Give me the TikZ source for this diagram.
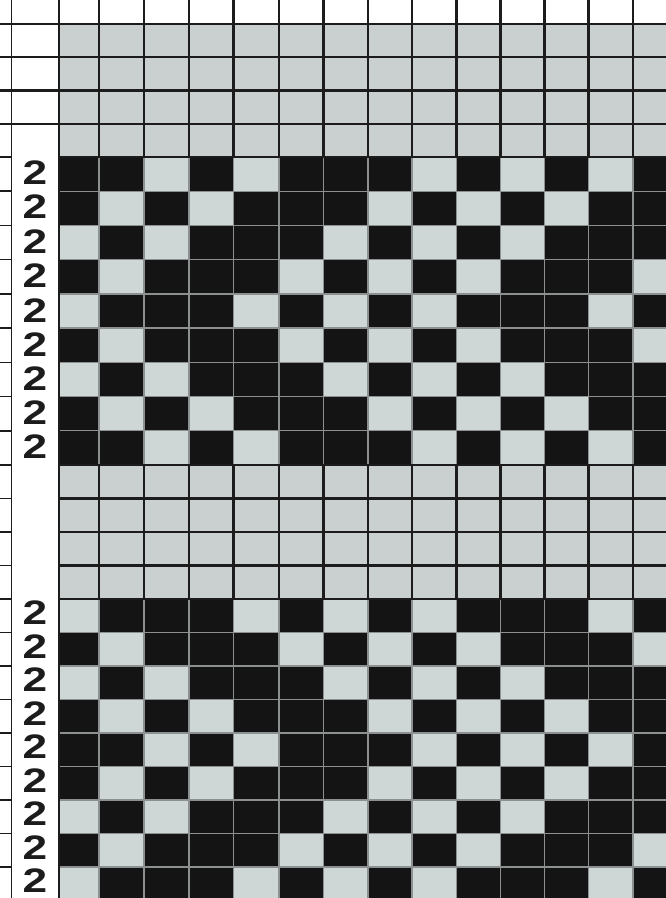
\documentclass[tikz,border=0pt]{standalone}
\usepackage{fontspec}
\setmainfont{Liberation Sans}
\definecolor{cellgrey}{RGB}{202,208,208}
\definecolor{celllight}{RGB}{207,214,214}
\definecolor{cellblack}{RGB}{20,20,20}
\definecolor{gridline}{RGB}{28,28,28}
\definecolor{sepline}{RGB}{140,144,144}
\tikzset{
  darkline/.style={draw=gridline,line width=2.4pt},
  thinline/.style={draw=gridline,line width=1.5pt},
  sepgrid/.style={draw=sepline,line width=1.3pt},
  rowlabel/.style={inner sep=0pt,font=\fontsize{34}{34}\selectfont\bfseries,text=gridline,xscale=1.3}
}
\def\colxs{{59,99,144,189,233.5,279,323.5,368,412,456.5,500.5,544.5,588.5,633,677}}
\begin{document}
\begin{tikzpicture}[x=1pt,y=-1pt]
\useasboundingbox (0,0) rectangle (666,898);
\clip (0,0) rectangle (666,898);
\fill[white] (0,0) rectangle (666,898);
% grey bands
\fill[cellgrey] (59,24) rectangle (677,157);
\fill[cellgrey] (59,465) rectangle (677,599);
% pattern bands
\fill[celllight] (59,157) rectangle (677,465);
\fill[celllight] (59,599) rectangle (677,900.5);
% black cells
\foreach \ya/\hh/\cols in {
  157/34.222/{1,2,4,6,7,8,10,12,14},
  191.222/34.222/{1,3,5,6,7,9,11,13,14},
  225.444/34.222/{2,4,5,6,8,10,12,13,14},
  259.667/34.222/{1,3,4,5,7,9,11,12,13},
  293.889/34.222/{2,3,4,6,8,10,11,12,14},
  328.111/34.222/{1,3,4,5,7,9,11,12,13},
  362.333/34.222/{2,4,5,6,8,10,12,13,14},
  396.556/34.222/{1,3,5,6,7,9,11,13,14},
  430.778/34.222/{1,2,4,6,7,8,10,12,14},
  599/33.5/{2,3,4,6,8,10,11,12,14},
  632.5/33.5/{1,3,4,5,7,9,11,12,13},
  666/33.5/{2,4,5,6,8,10,12,13,14},
  699.5/33.5/{1,3,5,6,7,9,11,13,14},
  733/33.5/{1,2,4,6,7,8,10,12,14},
  766.5/33.5/{1,3,5,6,7,9,11,13,14},
  800/33.5/{2,4,5,6,8,10,12,13,14},
  833.5/33.5/{1,3,4,5,7,9,11,12,13},
  867/33.5/{2,3,4,6,8,10,11,12,14}}{
  \foreach \c in \cols {
    \pgfmathsetmacro\xa{\colxs[\c-1]}
    \pgfmathsetmacro\xb{\colxs[\c]}
    \fill[cellblack] (\xa,\ya) rectangle (\xb,\ya+\hh);
  }
}
% light separators inside pattern bands
\foreach \x in {99,144,189,233.5,279,323.5,368,412,456.5,500.5,544.5,588.5,633}{
  \draw[sepgrid] (\x,157) -- (\x,465);
  \draw[sepgrid] (\x,599) -- (\x,900.5);
}
\foreach \y in {191.222,225.444,259.667,293.889,328.111,362.333,396.556,430.778,632.5,666,699.5,733,766.5,800,833.5,867}{
  \draw[sepgrid] (59,\y) -- (677,\y);
  \draw[thinline] (0,\y) -- (12,\y);
}
% dark grid lines in grey bands
\foreach \x in {99,144,189,233.5,279,323.5,368,412,456.5,500.5,544.5,588.5,633}{
  \draw[darkline] (\x,0) -- (\x,157);
  \draw[darkline] (\x,465) -- (\x,599);
}
\foreach \y in {24,57.25,90.5,123.75}{
  \draw[darkline] (0,\y) -- (677,\y);
}
\foreach \y in {157,465,498.5,532,565.5,599}{
  \draw[darkline] (59,\y) -- (677,\y);
  \draw[thinline] (0,\y) -- (12,\y);
}
\draw[thinline] (11.7,0) -- (11.7,898);
\draw[darkline] (59,0) -- (59,898);
% row labels
\foreach \yc [count=\i] in {172.5,207,241.5,276,310.5,345,379,413,447}{
  \node[rowlabel] (top\i) at (35,\yc) {2};
}
\foreach \yc [count=\i] in {613,646.5,680,713.5,747,780.5,814,847.5,881}{
  \node[rowlabel] (bot\i) at (35,\yc) {2};
}
\end{tikzpicture}
\end{document}
